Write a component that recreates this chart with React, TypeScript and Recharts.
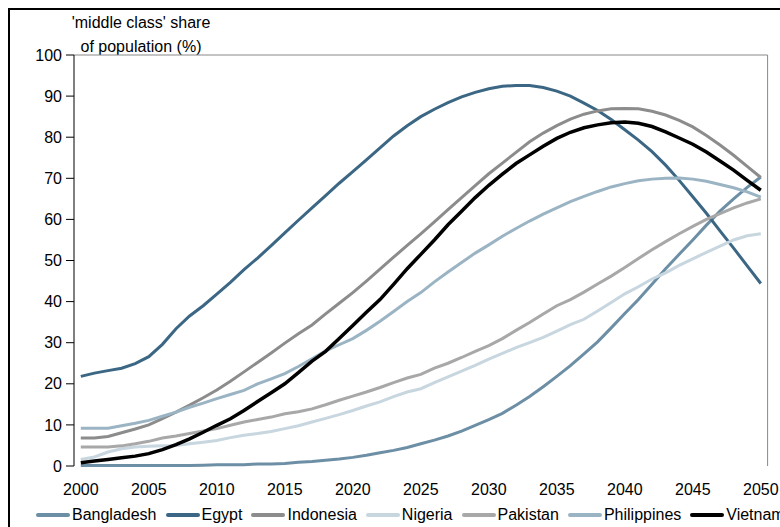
import React from 'react';
import { LineChart, Line, XAxis, YAxis, Legend, ReferenceLine } from 'recharts';

// categories
const years = Array.from({ length: 51 }, (_, i) => 2000 + i);
const yearLabels = [2000, 2005, 2010, 2015, 2020, 2025, 2030, 2035, 2040, 2045, 2050];
const shareTicks = [0, 10, 20, 30, 40, 50, 60, 70, 80, 90, 100];

// 'middle class' share of population (%), 2000..2050
const bangladesh = [
  0.1, 0.1, 0.1, 0.1, 0.1, 0.1, 0.1, 0.1, 0.1, 0.2,
  0.3, 0.3, 0.3, 0.5, 0.5, 0.6, 0.9, 1.1, 1.4, 1.7,
  2.1, 2.6, 3.2, 3.8, 4.5, 5.4, 6.3, 7.3, 8.5, 9.9,
  11.3, 12.8, 14.8, 16.9, 19.3, 21.8, 24.4, 27.3, 30.2, 33.6,
  37.1, 40.5, 44.2, 48.0, 51.5, 55.0, 58.6, 62.0, 65.0, 67.8,
  70.3,
];
const egypt = [
  21.8, 22.6, 23.2, 23.8, 24.9, 26.6, 29.6, 33.4, 36.5, 39.0,
  41.8, 44.7, 47.8, 50.6, 53.6, 56.7, 59.8, 62.8, 65.8, 68.8,
  71.6, 74.5, 77.4, 80.3, 82.8, 85.0, 86.8, 88.4, 89.8, 90.9,
  91.8, 92.4, 92.6, 92.6, 92.1, 91.2, 90.0, 88.3, 86.5, 84.3,
  81.8, 79.3, 76.5, 73.2, 69.5, 65.5, 61.5, 57.2, 53.0, 48.7,
  44.4,
];
const indonesia = [
  6.8, 6.8, 7.2, 8.1, 9.0, 10.0, 11.5, 13.1, 14.8, 16.6,
  18.5, 20.6, 22.9, 25.2, 27.5, 29.9, 32.2, 34.3, 37.0, 39.6,
  42.2, 45.0, 47.9, 50.8, 53.7, 56.5, 59.4, 62.4, 65.3, 68.2,
  71.1, 73.7, 76.3, 78.9, 81.0, 82.8, 84.4, 85.6, 86.4, 86.9,
  87.0, 86.9, 86.3, 85.4, 84.1, 82.5, 80.4, 78.1, 75.6, 72.9,
  70.2,
];
const nigeria = [
  1.6, 2.2, 3.4, 4.2, 4.6, 4.8, 4.9, 5.0, 5.4, 5.8,
  6.2, 6.9, 7.5, 7.9, 8.4, 9.1, 9.8, 10.7, 11.6, 12.5,
  13.5, 14.6, 15.6, 16.9, 18.0, 18.8, 20.3, 21.7, 23.1, 24.5,
  26.0, 27.4, 28.8, 30.0, 31.3, 32.8, 34.4, 35.7, 37.7, 39.8,
  41.9, 43.6, 45.5, 47.0, 48.8, 50.4, 52.0, 53.5, 55.0, 56.0,
  56.5,
];
const pakistan = [
  4.6, 4.6, 4.6, 4.9, 5.4, 6.0, 6.8, 7.3, 7.9, 8.5,
  9.1, 9.9, 10.7, 11.3, 11.9, 12.7, 13.2, 13.9, 14.9, 16.0,
  17.0, 18.0, 19.1, 20.3, 21.4, 22.3, 23.8, 25.0, 26.4, 27.9,
  29.3, 31.0, 33.0, 34.9, 37.0, 39.0, 40.5, 42.3, 44.3, 46.2,
  48.3, 50.5, 52.6, 54.6, 56.5, 58.3, 60.0, 61.4, 62.8, 64.0,
  65.0,
];
const philippines = [
  9.2, 9.2, 9.2, 9.8, 10.4, 11.1, 12.1, 13.1, 14.3, 15.3,
  16.4, 17.4, 18.4, 20.0, 21.2, 22.5, 24.2, 26.1, 28.0, 29.5,
  31.0, 33.0, 35.2, 37.6, 40.0, 42.2, 44.8, 47.2, 49.5, 51.8,
  53.8, 55.9, 57.8, 59.6, 61.3, 62.8, 64.3, 65.6, 66.8, 67.9,
  68.7, 69.4, 69.8, 70.0, 70.1, 69.8, 69.3, 68.5, 67.7, 66.7,
  65.4,
];
const vietnam = [
  0.8, 1.2, 1.6, 2.0, 2.4, 3.0, 4.0, 5.2, 6.6, 8.2,
  9.9, 11.5, 13.5, 15.7, 17.8, 20.0, 22.7, 25.5, 27.9, 31.0,
  34.2, 37.4, 40.5, 44.2, 48.0, 51.5, 55.0, 58.7, 62.0, 65.3,
  68.3, 71.0, 73.6, 75.7, 77.8, 79.7, 81.2, 82.3, 83.0, 83.5,
  83.7, 83.4, 82.6, 81.3, 79.8, 78.3, 76.4, 74.2, 72.0, 69.5,
  67.1,
];

const series = [
  { name: 'Bangladesh', values: bangladesh, color: '#6d8fa5', width: 3 },
  { name: 'Egypt', values: egypt, color: '#3b6784', width: 3 },
  { name: 'Indonesia', values: indonesia, color: '#8c8c8c', width: 3 },
  { name: 'Nigeria', values: nigeria, color: '#c7d6df', width: 3 },
  { name: 'Pakistan', values: pakistan, color: '#a8a8a8', width: 3 },
  { name: 'Philippines', values: philippines, color: '#9bb4c4', width: 3 },
  { name: 'Vietnam', values: vietnam, color: '#000000', width: 3.5 },
];

const data = years.map((year, i) => {
  const row: { [key: string]: number } = { year };
  series.forEach(s => {
    row[s.name] = s.values[i];
  });
  return row;
});

// tick marks sit between the yearly categories, like the original
const minorTicks = [...years.map(y => y - 0.5), years[years.length - 1] + 0.5];
const xDomain = [years[0] - 0.5, years[years.length - 1] + 0.5];

const font = '"Liberation Sans", Arial, sans-serif';
const textStyle = { fontSize: 16, fill: '#000', fontFamily: font };

const LegendContent = (props: any) => {
  const items = props.payload && props.payload.length
    ? props.payload
    : series.map(s => ({ value: s.name, color: s.color }));
  return (
    <div style={{ display: 'flex', alignItems: 'center', height: 20, whiteSpace: 'nowrap', fontFamily: font, fontSize: 16, color: '#000' }}>
      {items.map((item: any) => (
        <div key={item.value} style={{ display: 'flex', alignItems: 'center', marginRight: 8 }}>
          <svg width={36} height={6}>
            <line x1={3} y1={3} x2={33} y2={3} stroke={item.color} strokeWidth={4} strokeLinecap="round" />
          </svg>
          <span style={{ marginLeft: 1 }}>{item.value}</span>
        </div>
      ))}
    </div>
  );
};

const App: React.FC = () => {
  return (
    <div style={{ position: 'fixed', left: 0, top: 0, width: 780, height: 527, overflow: 'hidden', background: '#fff', fontFamily: font }}>
      <div style={{ position: 'absolute', left: 8, top: 8, width: 900, height: 600, border: '2px solid #000' }} />
      <div style={{ position: 'absolute', left: 0, top: 11, width: 282, textAlign: 'center', fontSize: 16, lineHeight: '24px', color: '#000' }}>
        'middle class' share
        <br />
        of population (%)
      </div>
      <div style={{ position: 'absolute', left: 0, top: 0 }}>
        <LineChart width={780} height={527} data={data} margin={{ top: 55, right: 12.4, left: 14, bottom: 11 }}>
          <XAxis
            xAxisId="minor"
            type="number"
            dataKey="year"
            domain={xDomain}
            ticks={minorTicks}
            tick={false}
            tickSize={5}
            height={0}
            stroke="#000"
            allowDataOverflow
          />
          <XAxis
            xAxisId="main"
            type="number"
            dataKey="year"
            domain={xDomain}
            ticks={yearLabels}
            tickLine={false}
            axisLine={false}
            tickSize={6}
            tickMargin={12}
            height={30}
            tick={textStyle}
            allowDataOverflow
          />
          <YAxis
            domain={[0, 100]}
            ticks={shareTicks}
            width={60}
            tickSize={8}
            tickMargin={4}
            stroke="#000"
            tick={textStyle}
          />
          <ReferenceLine xAxisId="main" y={100} stroke="#888" strokeWidth={1} />
          <ReferenceLine xAxisId="main" x={xDomain[1]} stroke="#888" strokeWidth={1} />
          <Legend
            verticalAlign="bottom"
            content={<LegendContent />}
            wrapperStyle={{ left: 35, top: 505, bottom: 'auto', width: 1000 }}
          />
          {series.map(s => (
            <Line
              key={s.name}
              xAxisId="main"
              type="linear"
              dataKey={s.name}
              stroke={s.color}
              strokeWidth={s.width}
              dot={false}
              activeDot={false}
              isAnimationActive={false}
            />
          ))}
        </LineChart>
      </div>
    </div>
  );
};

export default App;
